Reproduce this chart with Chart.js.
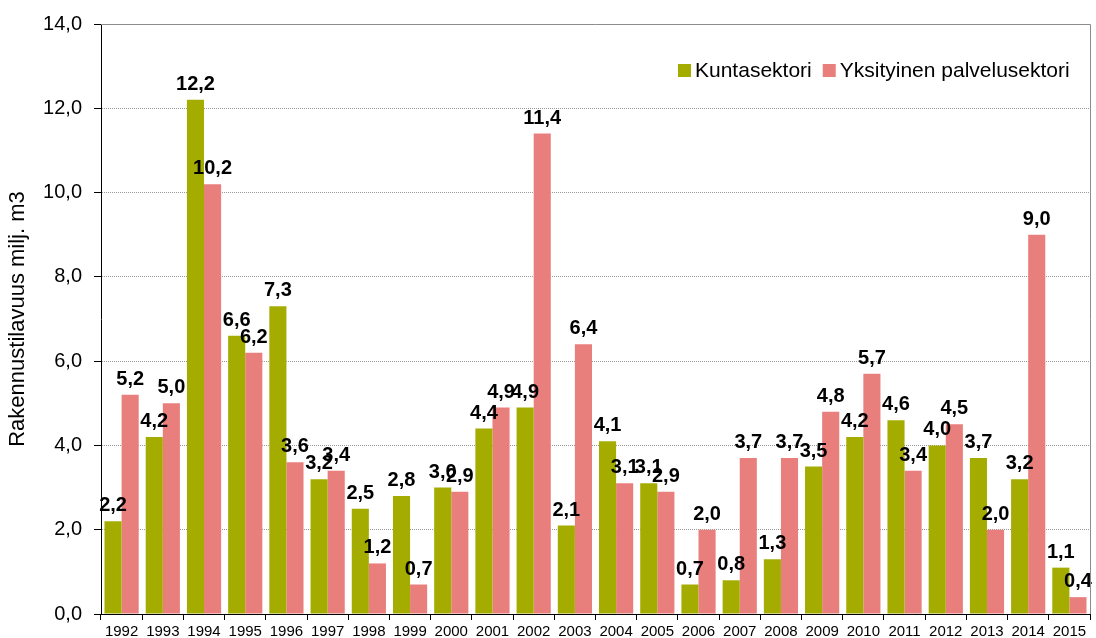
<!DOCTYPE html>
<html>
<head>
<meta charset="utf-8">
<script src="https://cdn.jsdelivr.net/npm/chart.js@4"></script>
<style>
html,body{margin:0;padding:0;background:#fff;}
#wrap{width:1096px;height:638px;position:relative;}
</style>
</head>
<body>
<div id="wrap"><canvas id="c" width="1096" height="638"></canvas></div>
<script>
const years = ['1992','1993','1994','1995','1996','1997','1998','1999','2000','2001','2002','2003','2004','2005','2006','2007','2008','2009','2010','2011','2012','2013','2014','2015'];
const kuntasektori = [2.2,4.2,12.2,6.6,7.3,3.2,2.5,2.8,3.0,4.4,4.9,2.1,4.1,3.1,0.7,0.8,1.3,3.5,4.2,4.6,4.0,3.7,3.2,1.1];
const yksityinen = [5.2,5.0,10.2,6.2,3.6,3.4,1.2,0.7,2.9,4.9,11.4,6.4,3.1,2.9,2.0,3.7,3.7,4.8,5.7,3.4,4.5,2.0,9.0,0.4];
const seriesNames = ['Kuntasektori','Yksityinen palvelusektori'];
const yTitle = 'Rakennustilavuus milj. m3';
const yMin = 0, yMax = 14, yStep = 2;

const COLORS = ['#a4ac00','#e87f7c'];
const FONT = '"Liberation Sans", Arial, sans-serif';
const fmt = v => v.toFixed(1).replace('.', ',');

const dataLabels = {
  id: 'dataLabels',
  afterDatasetsDraw(chart) {
    const ctx = chart.ctx;
    ctx.save();
    ctx.font = 'bold 20px ' + FONT;
    ctx.fillStyle = '#000';
    ctx.textAlign = 'center';
    ctx.textBaseline = 'alphabetic';
    chart.data.datasets.forEach((ds, di) => {
      const meta = chart.getDatasetMeta(di);
      meta.data.forEach((bar, i) => {
        ctx.fillText(fmt(ds.data[i]), bar.x, bar.y - 10);
      });
    });
    ctx.restore();
  }
};

const frameAndLegend = {
  id: 'frameAndLegend',
  afterDraw(chart) {
    const ctx = chart.ctx;
    const a = chart.chartArea;
    ctx.save();
    ctx.strokeStyle = '#8c8c8c';
    ctx.lineWidth = 1;
    ctx.beginPath();
    ctx.moveTo(a.left, a.top + 0.5);
    ctx.lineTo(a.right + 0.5, a.top + 0.5);
    ctx.lineTo(a.right + 0.5, a.bottom);
    ctx.stroke();
    ctx.font = '21px ' + FONT;
    ctx.textBaseline = 'alphabetic';
    ctx.textAlign = 'left';
    const base = 77;
    let x = 678;
    chart.data.datasets.forEach((ds, i) => {
      ctx.fillStyle = ds.backgroundColor;
      ctx.fillRect(x, 64, 13, 13);
      ctx.fillStyle = '#000';
      ctx.fillText(ds.label, x + 17, base);
      x += 17 + ctx.measureText(ds.label).width + 11;
    });
    ctx.restore();
  }
};

new Chart(document.getElementById('c'), {
  type: 'bar',
  data: {
    labels: years,
    datasets: [
      { label: seriesNames[0], data: kuntasektori, backgroundColor: COLORS[0] },
      { label: seriesNames[1], data: yksityinen, backgroundColor: COLORS[1] }
    ]
  },
  options: {
    responsive: false,
    animation: false,
    devicePixelRatio: 1,
    layout: { padding: { top: 10, right: 6, left: 0, bottom: 0 } },
    datasets: { bar: { categoryPercentage: 0.83, barPercentage: 1.0, borderWidth: 0 } },
    plugins: { legend: { display: false }, tooltip: { enabled: false } },
    scales: {
      x: {
        offset: true,
        grid: { offset: true, drawOnChartArea: false, drawTicks: true, tickLength: 6, tickColor: '#000' },
        border: { display: true, color: '#000', width: 1 },
        ticks: { color: '#000', font: { family: FONT, size: 15 }, padding: 3, maxRotation: 0, autoSkip: false },
        afterFit(s) { s.height = 23; }
      },
      y: {
        min: yMin, max: yMax,
        ticks: { stepSize: yStep, color: '#000', font: { family: FONT, size: 20 }, padding: 12, callback: v => fmt(v) },
        grid: { color: '#999999', tickLength: 7, tickColor: '#000', tickBorderDash: [] },
        border: { display: true, color: '#000', width: 1, dash: [1, 1] },
        title: { display: true, text: yTitle, color: '#000', font: { family: FONT, size: 22 }, padding: { top: 5, bottom: 0 } },
        afterFit(s) { s.width = 101; }
      }
    }
  },
  plugins: [dataLabels, frameAndLegend]
});
</script>
</body>
</html>
